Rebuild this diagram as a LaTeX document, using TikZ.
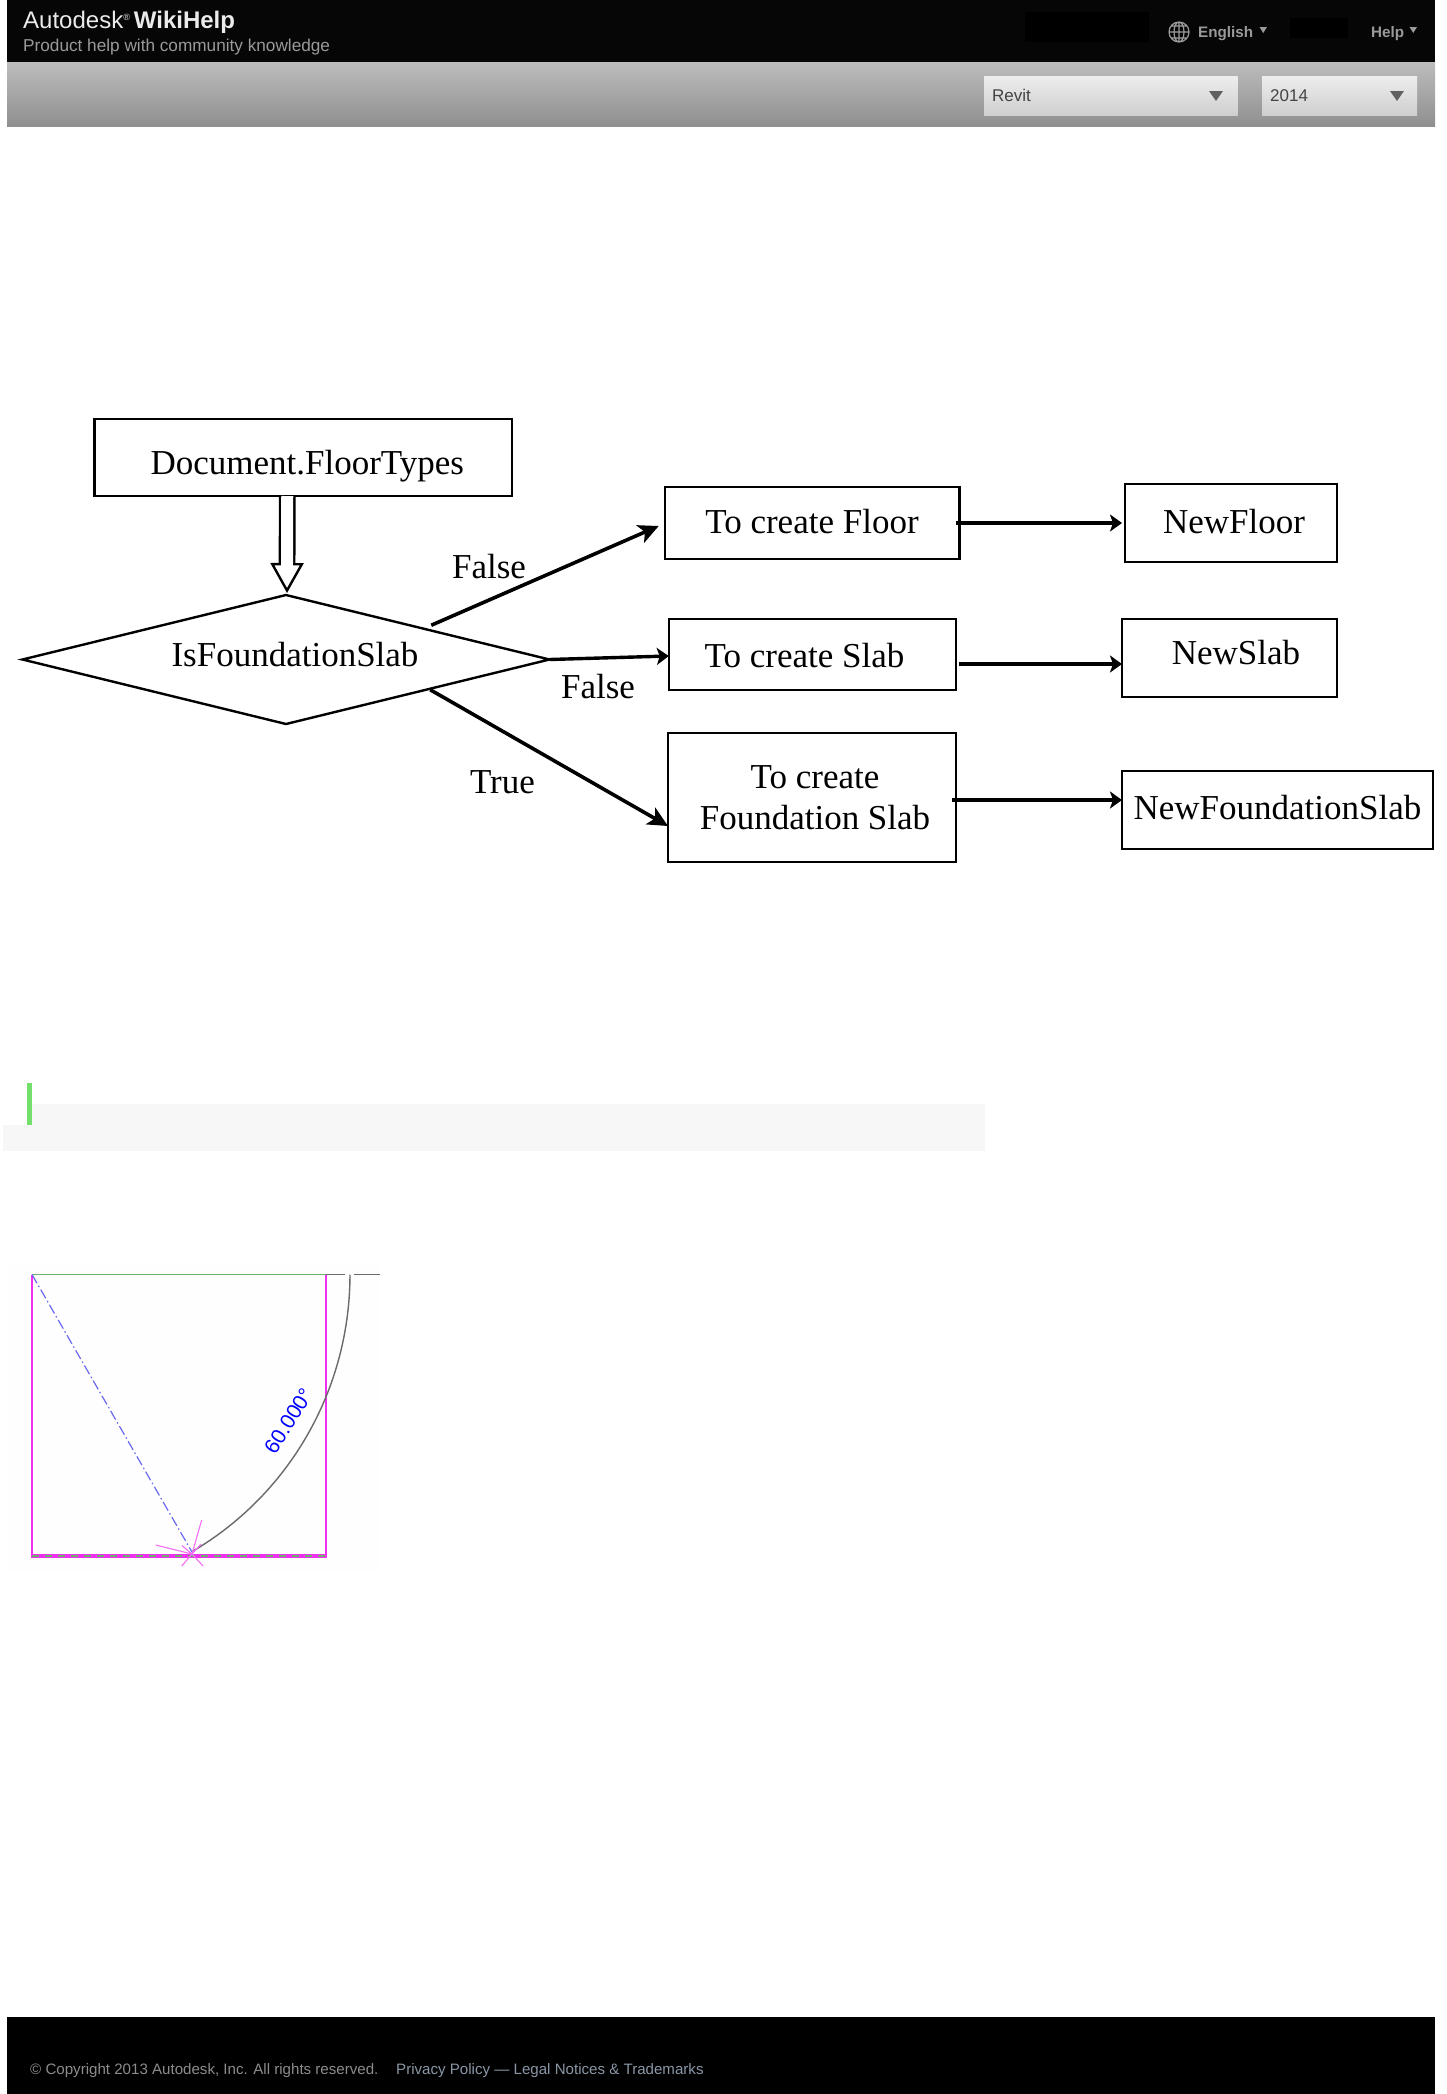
\documentclass[tikz,border=0pt]{standalone}
\usepackage{fontspec}
\setmainfont{Liberation Serif}
\setsansfont{Liberation Sans}
\usetikzlibrary{shapes.geometric,arrows.meta,calc}
\definecolor{barblack}{HTML}{060606}
\definecolor{ctrltext}{HTML}{444444}
\definecolor{hdrtext}{HTML}{9A9A9A}
\definecolor{footgrey}{HTML}{8C8C8C}
\definecolor{footlink}{HTML}{8A97A6}
\definecolor{notegrey}{HTML}{F7F7F7}
\definecolor{notegreen}{HTML}{72E06A}
\definecolor{revitmag}{HTML}{F030F0}
\definecolor{revitgreen}{HTML}{6CB06C}
\definecolor{revitgrey}{HTML}{6A6A6A}
\definecolor{revitblue}{HTML}{6A6AF0}
\newcommand{\px}[1]{\fontsize{#1}{#1}\selectfont}
\tikzset{
  x=1pt,y=-1pt,
  flowtext/.style={font=\px{35}},
  flowbox/.style={draw=black,line width=2.4pt,rectangle,inner sep=0pt,outer sep=0pt,flowtext,align=center},
  base off/.style={text depth=0pt,text height=2*#1 pt},
  flowarrow/.style={draw=black,line width=3.4pt,-{Stealth[length=12pt,width=17pt,inset=3pt]}},
  diagarrow/.style={draw=black,line width=3.6pt,-{Stealth[length=20pt,width=19pt,inset=5pt]}},
  branchlabel/.style={flowtext,anchor=base,inner sep=0pt},
  hdr/.style={font=\sffamily,anchor=base west,inner sep=0pt},
  dropdown/.style={rectangle,inner sep=0pt,top color=black!7,bottom color=black!19,anchor=north west},
  ctrl/.style={font=\sffamily\px{17},text=ctrltext,anchor=base west,inner sep=0pt},
}
\begin{document}
\begin{tikzpicture}
\useasboundingbox (0,0) rectangle (1446,2094);
% header
\fill[barblack] (7,0) rectangle (1435,62);
\fill[black] (1025,12) rectangle (1149,42);
\fill[black] (1290,18) rectangle (1348,38);
\shade[top color=black!26,bottom color=black!44] (7,62) rectangle (1435,126.5);
\node[hdr,text=white!92!black,font=\sffamily\px{24}] (brand) at (23,28) {Autodesk\raisebox{8pt}{\px{9}®}\hspace{4pt}\textbf{WikiHelp}};
\node[hdr,text=hdrtext,font=\sffamily\px{17.2}] (tagline) at (23,51) {Product help with community knowledge};
\draw[hdrtext,line width=1.2pt] (1179,32) circle (10)
  (1169,32) -- (1189,32) (1171,26) -- (1187,26) (1171,38) -- (1187,38)
  (1179,22) -- (1179,42) (1179,32) ellipse (5 and 10);
\node[hdr,text=hdrtext,font=\sffamily\bfseries\px{15.2}] (english) at (1198,37) {English};
\fill[hdrtext] (1259.5,27) -- (1267,27) -- (1263.2,33) -- cycle;
\node[hdr,text=hdrtext,font=\sffamily\bfseries\px{15.2}] (help) at (1371,37) {Help};
\fill[hdrtext] (1409.5,27) -- (1417,27) -- (1413.2,33) -- cycle;
\node[dropdown,minimum width=253.5pt,minimum height=39pt] (product) at (984,76) {};
\node[dropdown,minimum width=155pt,minimum height=39pt] (release) at (1262,76) {};
\node[ctrl] (revit) at (992,101) {Revit};
\node[ctrl] (year) at (1270,101) {2014};
\fill[black!62] (1209,91) -- (1223,91) -- (1216,101) -- cycle;
\fill[black!62] (1390,91) -- (1404,91) -- (1397,101) -- cycle;
% flow chart
\node[flowbox,minimum width=417.5pt,minimum height=77pt,base off=17] (doc) at (303.25,457.5) {\hspace*{8pt}Document.FloorTypes};
\node[diamond,draw=black,line width=2.4pt,inner sep=0pt,outer sep=0pt,shape aspect=4.08,minimum width=527pt,minimum height=129pt,flowtext,base off=6.5] (dia) at (286,659.5) {\hspace*{18pt}IsFoundationSlab};
\node[flowbox,minimum width=294.6pt,minimum height=72pt,base off=10] (tofloor) at (812,523) {To create Floor};
\node[flowbox,minimum width=287.4pt,minimum height=71pt,base off=12.5] (toslab) at (812.5,654.5) {To create Slab\hspace*{16pt}};
\node[flowbox,minimum width=288pt,minimum height=129pt] (tofound) at (812,797.5) {\hspace*{6pt}To create\\[6pt]\hspace*{6pt}Foundation Slab};
\node[flowbox,minimum width=212pt,minimum height=78pt,base off=10] (newfloor) at (1231,523) {\hspace*{6pt}NewFloor};
\node[flowbox,minimum width=215pt,minimum height=78pt,base off=6] (newslab) at (1229.5,658) {\hspace*{13pt}NewSlab};
\node[flowbox,minimum width=311pt,minimum height=78pt,base off=9] (newfound) at (1277.5,810) {NewFoundationSlab};
\draw[line width=2.4pt,double=white,double distance=12pt,-{Triangle[open,fill=white,length=30pt,width=33pt]}] ([xshift=-16pt]doc.south) -- ([xshift=1pt,yshift=2pt]dia.north);
\draw[white,line width=12pt] ([xshift=-16pt,yshift=-3pt]doc.south) -- ++(0,72);
\draw[diagarrow] ([xshift=13.5pt,yshift=2pt]dia.north east) -- ([xshift=-6pt,yshift=-3pt]tofloor.west);
\draw[flowarrow] (dia.east) -- ([yshift=-1.5pt]toslab.west);
\draw[diagarrow] ([xshift=12.5pt,yshift=2pt]dia.south east) -- ([yshift=-28.5pt]tofound.west);
\draw[flowarrow] ([xshift=-3pt]tofloor.east) -- ([xshift=-3pt]newfloor.west);
\draw[flowarrow] ([xshift=3pt,yshift=-9.5pt]toslab.east) -- ([yshift=-6pt]newslab.west);
\draw[flowarrow] ([xshift=-4pt,yshift=-2.5pt]tofound.east) -- ([yshift=10pt]newfound.west);
\node[branchlabel] (false1) at (489,578) {False};
\node[branchlabel] (false2) at (598,698) {False};
\node[branchlabel] (true1) at (502.5,793) {True};
% note strip
\fill[notegrey] (32,1104) rectangle (985,1125);
\fill[notegrey] (3,1125) rectangle (985,1151);
\fill[notegreen] (27,1083) rectangle (32,1125);
% sketch
\fill[black!0.4] (7,1263) rectangle (380,1572);
\draw[revitmag,line width=1.4pt] (32,1274.5) -- (32,1556) (326,1274.5) -- (326,1556);
\draw[revitmag,line width=3.2pt] (31,1556) -- (327,1556);
\draw[revitgreen,line width=1.6pt,dash pattern=on 7pt off 6pt] (32,1556) -- (326,1556);
\draw[revitgreen,line width=1.8pt] (32,1274.5) -- (326,1274.5);
\draw[revitgrey,line width=1.8pt] (326,1274.5) -- (345,1274.5) (354,1274.5) -- (380,1274.5);
\draw[revitgrey,line width=1.4pt,smooth] plot[domain=0:60,samples=40] ({34+316*cos(\x)},{1274.5+320*sin(\x)});
\draw[revitblue,line width=1.2pt,dash pattern=on 10pt off 3pt on 1.5pt off 3pt] (32,1274.5) -- (192,1552);
\draw[revitmag!70!white,line width=1.1pt]
  (192,1554) -- (201.7,1520) (192,1554) -- (155.7,1545) (192,1554) -- (181.7,1566)
  (192,1554) -- (203,1566) (192,1554) -- (182,1545.5) (192,1554) -- (201,1544);
\node[font=\sffamily\px{21},text=blue,rotate=58,inner sep=0pt] (angle) at (288.5,1421) {60.000°};
% footer
\fill[black] (7,2017) rectangle (1435,2094);
\node[hdr,text=footgrey,font=\sffamily\px{15.1}] (copy) at (30,2074) {© Copyright 2013 Autodesk, Inc. All rights reserved.};
\node[hdr,text=footlink,font=\sffamily\px{15.1}] (links) at (396,2074) {Privacy Policy — Legal Notices \& Trademarks};
\end{tikzpicture}
\end{document}
